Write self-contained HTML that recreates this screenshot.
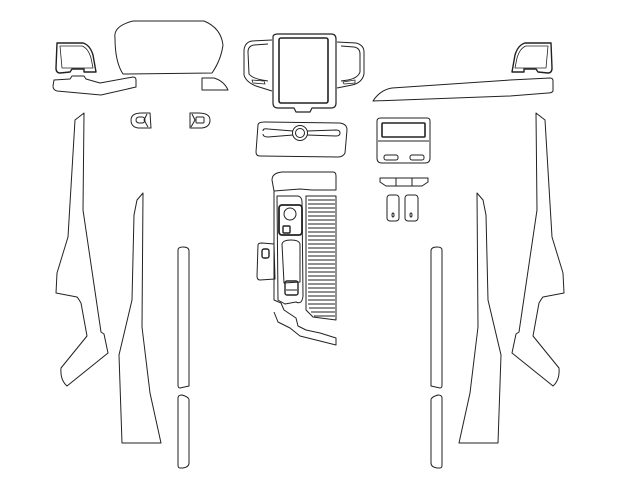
<!DOCTYPE html>
<html><head><meta charset="utf-8"><style>
html,body{margin:0;padding:0;background:#fff;width:620px;height:485px;overflow:hidden}
svg{display:block}
</style></head><body>
<svg width="620" height="485" viewBox="0 0 620 485" fill="none" stroke="#222" stroke-width="1" stroke-linejoin="round">
<defs>
<g id="M">
  <path d="M57,43 L83,43 Q90,45 93,55 L96,72 L84,72 L84,69 L72,69 L70,72 L60,73 Q56,73 56,68 Z" stroke-width="1.4"/>
  <path d="M60,46 L82,46 Q88,48 91,58 L93,68 L62,68 Z" stroke-width="0.8"/>
</g>
<g id="L">
  <!-- long pillar -->
  <path d="M84,113 L83,210 L101,332 L104,334 L108,353 L67,386 Q60,380 61,368 L87,336 L81,303 Q78,298 77,297 L56,293 L57,273 L68,237 L75,120 Z"/>
  <!-- second pillar -->
  <path d="M143,193 L142,327 L150,393 L161,443 L122,443 L119,355 L132,300 L134,215 L137,200 Z"/>
  <!-- strips -->
  <path d="M178,250 Q178,247 183,247 Q189,247 189,251 L189,386 L180,388 Q178,388 178,385 Z"/>
  <path d="M178,398 Q178,395 182,395 Q189,397 189,400 L189,463 Q189,467 183,468 L180,468 Q178,468 178,465 Z"/>
</g>
</defs>
<use href="#L"/>
<use href="#L" transform="translate(620,0) scale(-1,1)"/>
<use href="#M"/>
<use href="#M" transform="translate(608,0) scale(-1,1)"/>
<path d="M54,80 L70,79 L72,76 L84,76 L86,79 L100,83 L133,77 Q136,77 136,80 L136,87 L101,95 L57,91 Q53,90 53,86 Z"/>

<!-- cluster -->
<path d="M115,38 Q113,26 133,21 L204,21 Q221,28 223,45 Q221,60 212,73 L123,74 Q115,62 115,38 Z"/>
<path d="M202,78 L214,78 Q224,81 228,90 L202,90 Z"/>
<!-- knobs -->
<path d="M131,120 Q131,113 142,113 L150,113 L151,128 L138,128 Q131,127 131,120 Z"/>
<rect x="136" y="117" width="9" height="6" rx="3"/><path d="M147,114 L144,120 L148,127"/>
<path d="M190,113 L198,113 Q210,113 210,120 Q210,127 202,128 L190,128 Z"/>
<rect x="196" y="117" width="8" height="6" rx="1"/><path d="M192,114 L195,120 L191,127"/>

<!-- right top strip -->
<path d="M373,101 Q380,90 392,88 L510,80 L550,78 Q553,78 553,81 L553,91 Q552,93 548,93 L510,96 L373,101 Z"/>

<!-- screen assembly -->
<path d="M273,37 Q273,34 278,34 L331,34 Q336,34 336,39 L336,103 Q336,108 331,108 L312,108 L310,112 L296,112 L294,108 L278,108 Q273,108 273,103 Z" stroke-width="1.2"/>
<rect x="279" y="38" width="49" height="65" rx="2" stroke-width="1.6"/>
<path d="M272,40 L252,41 Q245,42 244,50 L244,75 Q246,82 256,86 L272,91"/>
<path d="M268,44 L254,45 Q248,46 248,52 L249,74 Q252,78 262,80 L268,81"/>
<path d="M252,80 L264,81 L265,84 L253,83 Z" stroke-width="0.8"/>
<path d="M337,42 L356,43 Q364,45 364,52 L364,74 Q362,83 352,85 L337,88"/>
<path d="M341,46 L354,47 Q360,48 360,54 L360,72 Q358,78 348,80 L341,81"/>
<path d="M343,82 L355,80 L355,83 L344,84 Z" stroke-width="0.8"/>

<!-- vent panel -->
<path d="M258,125 Q258,122 265,122 L340,123 Q347,124 347,130 L345,153 Q343,157 338,157 L260,156 Q256,156 256,152 Z"/>
<path d="M263,131 Q263,128 268,129 L293,131 M307,131 L336,130 Q340,130 340,133 Q340,136 336,136 L307,135 M293,135 L268,137 Q263,137 263,134"/>
<circle cx="300" cy="133" r="7.5"/><circle cx="300" cy="133" r="4.5"/>

<!-- climate panel -->
<path d="M377,121 Q377,118 381,118 L427,118 Q430,118 430,121 L430,158 Q430,163 425,163 L382,163 Q377,163 377,158 Z"/>
<rect x="382" y="123" width="43" height="14" rx="1" stroke-width="1.6"/>
<path d="M378,141 L429,141"/>
<rect x="384" y="155" width="14" height="5" rx="2"/><rect x="410" y="155" width="14" height="5" rx="2"/>
<path d="M380,178 L428,178 L428,182 L422,186 L386,186 L380,182 Z"/>
<path d="M396,178 L396,186 M412,178 L412,186"/>
<rect x="387" y="195" width="12" height="26" rx="3"/><ellipse cx="393" cy="215" rx="1" ry="2"/>
<rect x="405" y="195" width="13" height="26" rx="3"/><ellipse cx="411" cy="215" rx="1" ry="2"/>

<!-- console -->
<path d="M272,180 Q272,173 282,172 L333,172 Q336,172 336,176 L336,190 L312,190 L300,189 L274,191 Z"/>
<path d="M274,191 L274,300 L281,303 L284,310 L296,318 L298,326 L306,330 L320,333 L336,338 L336,345 L316,340 L300,336 L290,328 L278,322 L274,312"/>
<path d="M277,196 L298,196 Q302,197 302,202 L303,296 Q302,305 296,302 L285,304 L278,300 Z"/>
<rect x="279" y="205" width="23" height="30" rx="3" stroke-width="1.8"/>
<circle cx="290" cy="214" r="6"/><rect x="283" y="226" width="7" height="7" rx="1" stroke-width="1.4"/>
<path d="M282,244 Q283,240 291,240 Q299,240 300,244 L300,282 L284,283 Z"/>
<rect x="285" y="281" width="13" height="14" rx="2" stroke-width="1.4"/>
<path d="M286,290 L297,290"/>
<path d="M306,196 L336,196 L336,320 L313,317 L306,310 Z"/>
<g stroke-width="1.1">
<path d="M308,200 H335 M308,204 H335 M308,208 H335 M308,212 H335 M308,216 H335 M308,220 H335 M308,224 H335 M308,228 H335 M308,232 H335 M308,236 H335 M308,240 H335 M308,244 H335 M308,248 H335 M308,252 H335 M308,256 H335 M308,260 H335 M308,264 H335 M308,268 H335 M308,272 H335 M308,276 H335 M308,280 H335 M308,284 H335 M308,288 H335 M308,292 H335 M308,296 H335 M308,300 H335 M308,304 H335 M309,308 H335 M311,312 H335 M314,316 H335"/>
</g>
<path d="M258,245 Q258,243 262,243 L274,244 L275,279 L260,280 Q257,280 257,276 Z"/>
<rect x="262" y="249" width="7" height="9" rx="2" stroke-width="1.4"/>
</svg>
</body></html>
